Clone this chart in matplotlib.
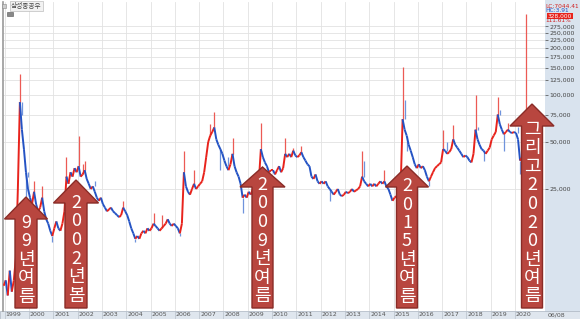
import matplotlib
matplotlib.use("Agg")
import matplotlib.pyplot as plt
import numpy as np
from matplotlib.patches import Polygon, Rectangle
from matplotlib.collections import LineCollection
from matplotlib.ticker import FixedLocator, NullLocator
import matplotlib.transforms as mtransforms

# monthly closes, Jan 1999 .. Jun 2020 (won)
closes = [
    6500, 5200, 7500, 5500, 6500, 9000, 25000, 90000, 60000, 45000, 32000, 25000,    # 1999
    22000, 20000, 24000, 20000, 18000, 19000, 22000, 18000, 16000, 15000, 13500, 12500,  # 2000
    14000, 15500, 14000, 13500, 15000, 18000, 30000, 27000, 32000, 30000, 34000, 32000,  # 2001
    35000, 30000, 31000, 33000, 29000, 27000, 25000, 26000, 24000, 22000, 21000, 22000,  # 2002
    20000, 19000, 18000, 18500, 19000, 18000, 17500, 17000, 16500, 17000, 19000, 18000,  # 2003
    17000, 15500, 14000, 13000, 12000, 12500, 12000, 13000, 13500, 13000, 14000, 13500,  # 2004
    14000, 15000, 14500, 14000, 13500, 14000, 14500, 15000, 16000, 15000, 14500, 15000,  # 2005
    14500, 14000, 13000, 15000, 32000, 26000, 24000, 23000, 25000, 27000, 25000, 26000,  # 2006
    27000, 28000, 32000, 40000, 50000, 55000, 58000, 62000, 52000, 48000, 45000, 42000,  # 2007
    38000, 35000, 33000, 36000, 42000, 35000, 32000, 30000, 27000, 22000, 23000, 22000,  # 2008
    24000, 23000, 25000, 27000, 26000, 28000, 45000, 40000, 37000, 35000, 32000, 33000,  # 2009
    33000, 31000, 33000, 35000, 32000, 34000, 42000, 40000, 42000, 40000, 44000, 41000,  # 2010
    40000, 41000, 43000, 40000, 38000, 36000, 35000, 30000, 29000, 31000, 28000, 27000,  # 2011
    28000, 27000, 28000, 26000, 25000, 24000, 23000, 24000, 25000, 23000, 22500, 23000,  # 2012
    24000, 23500, 24000, 25000, 24000, 24500, 25000, 26000, 30000, 28000, 27000, 26000,  # 2013
    27000, 26000, 27000, 26000, 27000, 28000, 27000, 28000, 26000, 25000, 23000, 21000,  # 2014
    22000, 22500, 23000, 25000, 70000, 60000, 55000, 48000, 44000, 40000, 36000, 34000,  # 2015
    36000, 34000, 35000, 33000, 30000, 28000, 30000, 32000, 34000, 35000, 36000, 37000,  # 2016
    45000, 44000, 42000, 43000, 45000, 52000, 48000, 46000, 44000, 42000, 40000, 41000,  # 2017
    40000, 38000, 37000, 42000, 60000, 52000, 48000, 45000, 44000, 42000, 44000, 46000,  # 2018
    52000, 55000, 58000, 75000, 65000, 60000, 56000, 58000, 60000, 58000, 57000, 58000,  # 2019
    57000, 52000, 38000, 40000, 42000, 70000,                                          # 2020
]
first_open = 6000

# intramonth spikes
high_months = ["1999-08", "1999-09", "1999-10", "1999-12", "2000-03", "2000-07", "2001-07",
               "2002-01", "2002-03", "2002-04", "2002-09", "2003-11", "2005-02", "2005-06",
               "2006-05", "2006-10", "2007-06", "2007-08", "2008-03", "2008-05", "2009-07",
               "2010-07", "2010-11", "2011-03", "2013-09", "2013-10", "2014-08", "2015-05",
               "2015-06", "2017-01", "2017-03", "2017-06", "2018-05", "2018-06", "2019-04",
               "2019-05", "2019-09", "2020-02", "2020-06"]
high_values = [137000, 75000, 60000, 30000, 28000, 26000, 40000,
               55000, 36000, 38000, 28000, 21000, 17500, 17000,
               44000, 33000, 65000, 78000, 40000, 53000, 66000,
               53000, 46000, 47000, 44000, 38000, 33000, 151000,
               93000, 60000, 50000, 64000, 100000, 62000, 97000,
               80000, 66000, 62000, 328000]
low_months = ["1999-11", "2000-12", "2004-05", "2006-03", "2007-11", "2008-10", "2009-03",
              "2012-05", "2015-07", "2016-06", "2018-09", "2019-07", "2020-03"]
low_values = [22000, 11500, 11500, 12500, 33000, 17500, 20000,
              21000, 44000, 26000, 38000, 44000, 31000]

y_ticks = [25000, 50000, 75000, 100000, 125000, 150000, 175000, 200000, 225000, 250000, 275000]
years = list(range(1999, 2021))

arrows = [
    ("99년여름", 26, 197, 219, 21.5, 11, 223),
    ("2002년봄", 76, 180, 203, 22.5, 11, 203),
    ("2009년여름", 262.5, 167, 187, 22.5, 10.5, 185),
    ("2015년여름", 407, 166, 187, 21.5, 10.5, 186),
    ("그리고2020년여름", 532, 104, 126, 22, 10.5, 130),
]

KFONT = ["Noto Sans CJK KR", "DejaVu Sans"]
W, H = 580, 319
RED, BLUE = "#e8231c", "#2453c4"

fig = plt.figure(figsize=(5.8, 3.19), dpi=100)
fig.patch.set_facecolor("white")

# right price panel and bottom date strip
fig.patches.append(Rectangle((545 / W, 0), 35 / W, 1, transform=fig.transFigure,
                             facecolor="#d9e3ee", edgecolor="none", zorder=-2))
fig.patches.append(Rectangle((0, 0), 1, 8 / H, transform=fig.transFigure,
                             facecolor="#dfe6ee", edgecolor="#aab4c0", lw=0.5, zorder=-2))

ax = fig.add_axes([3 / W, 8 / H, 542 / W, 309 / H])
ax.set_facecolor("white")

# month positions
n = len(closes)
xs = np.array([1999 + (i + 0.5) / 12 for i in range(n)])
opens = [first_open] + closes[:-1]
up = np.array(closes) >= np.array(opens)

# price path, segment colour by direction
pts = np.column_stack([np.r_[xs[0] - 1 / 12, xs], [first_open] + closes])
segs = np.stack([pts[:-1], pts[1:]], axis=1)
ax.add_collection(LineCollection(segs, colors=[RED if u else BLUE for u in up],
                                 linewidths=1.4, zorder=3))


def month_idx(m):
    y, mo = m.split("-")
    return (int(y) - 1999) * 12 + int(mo) - 1


for m, v in zip(high_months, high_values):
    i = month_idx(m)
    ax.vlines(xs[i], max(opens[i], closes[i]), v, color="#ec5a54" if up[i] else "#6f93dc",
              lw=0.9, zorder=2)
for m, v in zip(low_months, low_values):
    i = month_idx(m)
    ax.vlines(xs[i], v, min(opens[i], closes[i]), color="#ec5a54" if up[i] else "#6f93dc",
              lw=0.9, zorder=2)

ax.set_yscale("log")
ax.set_ylim(25000 * 2 ** (-(311 - 189) / 47), 25000 * 2 ** ((189 - 2) / 47))
ax.set_xlim(2000 - 26 / 24.3, 2000 + 516 / 24.3)

ax.yaxis.set_major_locator(FixedLocator(y_ticks))
ax.yaxis.set_minor_locator(NullLocator())
ax.yaxis.tick_right()
ax.set_yticklabels([f"{v:,}" for v in y_ticks])
ax.tick_params(axis="y", direction="out", length=2, width=0.5, pad=1,
               labelsize=4.5, colors="#444444")

ax.set_xticks(years)
ax.set_xticklabels([])
ax.tick_params(axis="x", direction="out", length=6, width=0.5, color="#b8c0ca")
ax.grid(True, color="#e2e2e2", lw=0.6, zorder=0)

for s in ["top", "right", "bottom"]:
    ax.spines[s].set_visible(False)
ax.spines["left"].set_color("#9a9a9a")
ax.spines["left"].set_linewidth(1.2)

trans = mtransforms.blended_transform_factory(ax.transData, fig.transFigure)
for yr in years:
    ax.text(yr + 0.04, 4 / H, str(yr), transform=trans, fontsize=4.5,
            color="#555555", ha="left", va="center", clip_on=False)
fig.text(548 / W, 4 / H, "06/08", fontsize=4.5, color="#555555", ha="left", va="center")

# price panel header
fig.text(545 / W, 1 - 6 / H, "LC:7044.41", fontsize=4.2, color="#d02020", ha="left", va="center")
fig.text(545 / W, 1 - 11 / H, "HC:3.91", fontsize=4.2, color="#2050c0", ha="left", va="center")
fig.text(548 / W, 1 - 16 / H, "328,000", fontsize=4.2, color="white", ha="left", va="center",
         bbox=dict(boxstyle="square,pad=0.1", facecolor=RED, edgecolor="none"))
fig.text(545 / W, 1 - 21 / H, "111.61%", fontsize=4.2, color="#d02020", ha="left", va="center")

# title tag
fig.patches.append(Rectangle((2 / W, 1 - 8 / H), 4 / W, 4 / H, transform=fig.transFigure,
                             facecolor="#cccccc", edgecolor="#888888", lw=0.4))
fig.text(11 / W, 1 - 6 / H, "삼성중공우", family=KFONT, fontsize=4.8, color="#444444",
         ha="left", va="center",
         bbox=dict(boxstyle="square,pad=0.15", facecolor="#f2f2f2", edgecolor="#b0b0b0", lw=0.4))
fig.patches.append(Rectangle((7 / W, 1 - 16 / H), 6 / W, 4 / H, transform=fig.transFigure,
                             facecolor="#888888", edgecolor="#555555", lw=0.4))

# annotation arrows
ov = fig.add_axes([0, 0, 1, 1], zorder=5)
ov.set_xlim(0, W)
ov.set_ylim(H, 0)
ov.axis("off")
ov.patch.set_alpha(0)
for label, cx, tip, base, hw, sw, y0 in arrows:
    poly = [(cx, tip), (cx + hw, base), (cx + sw, base), (cx + sw, 308),
            (cx - sw, 308), (cx - sw, base), (cx - hw, base)]
    ov.add_patch(Polygon(poly, closed=True, facecolor="#b8463f", edgecolor="#8a2c27", lw=1.0))
    for k, ch in enumerate(label):
        ov.text(cx, y0 + k * 18.5, ch, family=KFONT, fontsize=13, color="white",
                ha="center", va="center")

fig.savefig("out.png", dpi=100)
